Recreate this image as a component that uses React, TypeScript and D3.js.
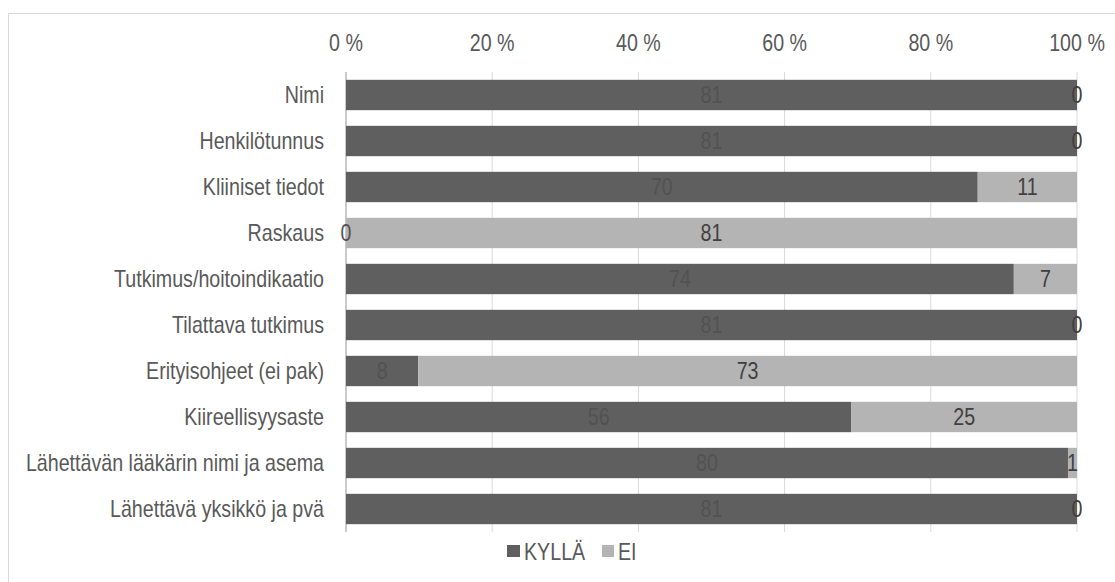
import React from "react";
import * as d3 from "d3";

const categories = [
  "Nimi",
  "Henkilötunnus",
  "Kliiniset tiedot",
  "Raskaus",
  "Tutkimus/hoitoindikaatio",
  "Tilattava tutkimus",
  "Erityisohjeet (ei pak)",
  "Kiireellisyysaste",
  "Lähettävän lääkärin nimi ja asema",
  "Lähettävä yksikkö ja pvä",
];
const kylla = [81, 81, 70, 0, 74, 81, 8, 56, 80, 81];
const ei = [0, 0, 11, 81, 7, 0, 73, 25, 1, 0];
const seriesNames = ["KYLLÄ", "EI"];
const tickValues = [0, 0.2, 0.4, 0.6, 0.8, 1];

const W = 1115;
const H = 582;
const FONT = "'Liberation Sans', Arial, sans-serif";
const FS = 23;
const SX = 0.855;
const colors = ["#5f5f5f", "#b4b4b4"];

function T({ x, y, anchor = "start", fill = "#595959", children }: any) {
  return (
    <text
      transform={`translate(${x},${y}) scale(${SX},1)`}
      dy="0.35em"
      textAnchor={anchor}
      fontFamily={FONT}
      fontSize={FS}
      fill={fill}
    >
      {children}
    </text>
  );
}

export default function App() {
  const x = d3.scaleLinear().domain([0, 1]).range([346, 1077]);
  const y = d3.scaleBand().domain(categories).range([72, 532]).paddingInner(0.34).paddingOuter(0.17);
  const data = categories.map((c, i) => ({ cat: c, k: kylla[i], e: ei[i], total: kylla[i] + ei[i] }));
  const bw = y.bandwidth();

  return (
    <svg width={W} height={H} style={{ position: "absolute", left: 0, top: 0 }}>
      <rect x={8.5} y={13.5} width={W} height={H} fill="#fff" stroke="#d9d9d9" />
      {tickValues.map((t) => (
        <g key={t}>
          <line x1={x(t)} x2={x(t)} y1={72} y2={532} stroke="#d9d9d9" strokeWidth={1} />
          <T x={x(t)} y={42.5} anchor="middle">{`${Math.round(t * 100)} %`}</T>
        </g>
      ))}
      <line x1={346} x2={346} y1={72} y2={532} stroke="#bfbfbf" strokeWidth={1.5} />
      {data.map((d) => {
        const yy = y(d.cat)!;
        const xk0 = x(0);
        const xk1 = x(d.k / d.total);
        const xe1 = x(1);
        const cy = yy + bw / 2;
        return (
          <g key={d.cat}>
            <rect x={xk0} y={yy} width={xk1 - xk0} height={bw} fill={colors[0]} />
            <rect x={xk1} y={yy} width={xe1 - xk1} height={bw} fill={colors[1]} />
            <T x={324} y={cy} anchor="end">{d.cat}</T>
            <T x={(xk0 + xk1) / 2} y={cy} anchor="middle" fill="#525252">{d.k}</T>
            <T x={(xk1 + xe1) / 2} y={cy} anchor="middle" fill="#404040">{d.e}</T>
          </g>
        );
      })}
      <g>
        <rect x={507} y={545} width={13} height={12} fill={colors[0]} />
        <T x={524} y={552}>{seriesNames[0]}</T>
        <rect x={602} y={545} width={12} height={12} fill={colors[1]} />
        <T x={618} y={552}>{seriesNames[1]}</T>
      </g>
    </svg>
  );
}
